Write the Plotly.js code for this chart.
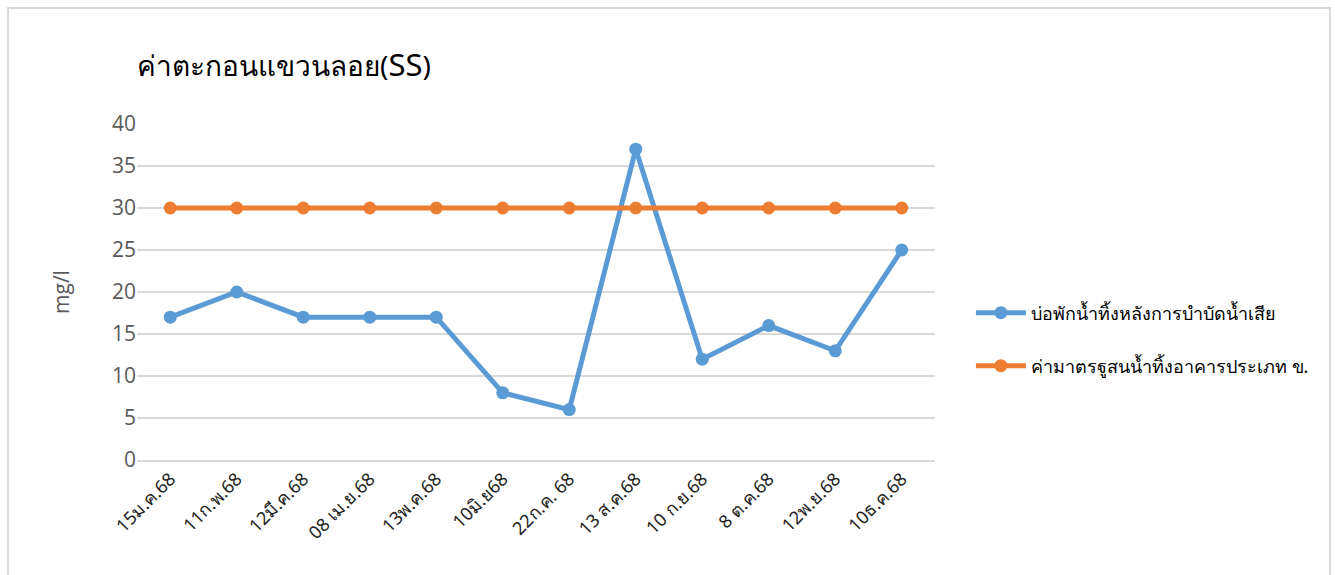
<!DOCTYPE html>
<html><head><meta charset="utf-8">
<script src="https://cdn.plot.ly/plotly-3.0.1.min.js"></script>
<style>
body{margin:0;padding:0;background:#fff;}
#wrap{position:relative;width:1335px;height:575px;overflow:hidden;}
#chart{position:absolute;left:0;top:0;width:1335px;height:575px;}
#frame{position:absolute;left:7px;top:7px;width:1324px;height:600px;border:2px solid #D9D9D9;box-sizing:border-box;pointer-events:none;}
</style></head>
<body>
<div id="wrap"><div id="chart"></div><div id="frame"></div></div>
<script>
const categories = ["15ม.ค.68","11ก.พ.68","12มี.ค.68","08 เม.ย.68","13พ.ค.68","10มิ.ย68","22ก.ค. 68","13 ส.ค.68","10 ก.ย.68","8 ต.ค.68","12พ.ย.68","10ธ.ค.68"];
const pondValues = [17,20,17,17,17,8,6,37,12,16,13,25];
const standardValues = [30,30,30,30,30,30,30,30,30,30,30,30];
const seriesNames = ["บ่อพักน้ำทิ้งหลังการบำบัดน้ำเสีย","ค่ามาตรฐูสนน้ำทิ้งอาคารประเภท ข."];
const yTicks = [0,5,10,15,20,25,30,35,40];

const font = "Tahoma, 'Noto Sans', 'DejaVu Sans', sans-serif";
const numFont = "'Open Sans', 'Noto Sans', sans-serif";
const traces = [
  {x: categories, y: pondValues, name: seriesNames[0], type: 'scatter', mode: 'lines+markers',
   line: {color: '#5B9BD5', width: 5}, marker: {color: '#5B9BD5', size: 13}, legend: 'legend'},
  {x: categories, y: standardValues, name: seriesNames[1], type: 'scatter', mode: 'lines+markers',
   line: {color: '#ED7D31', width: 5}, marker: {color: '#ED7D31', size: 13}, legend: 'legend2'}
];
const layout = {
  width: 1335, height: 575,
  margin: {l: 137, r: 400, t: 124, b: 115, autoexpand: false},
  paper_bgcolor: '#fff', plot_bgcolor: '#fff',
  font: {family: font, color: '#595959'},
  title: {text: 'ค่าตะกอนแขวนลอย(<span style="font-size:31px">SS</span>)', x: 137/1335, xanchor: 'left', y: 1 - 66/575, yanchor: 'middle',
          font: {family: font, size: 28, color: '#000'}},
  xaxis: {type: 'category', range: [-0.5, 11.5], tickangle: -45, showgrid: false, showline: true, automargin: false,
          linecolor: '#D9D9D9', linewidth: 1.5, ticks: '', tickfont: {family: font, size: 18, color: '#222'}},
  yaxis: {range: [0, 40], tickvals: yTicks, showgrid: true, gridcolor: '#D9D9D9', gridwidth: 1.5, automargin: false,
          zeroline: false, showline: false, ticks: '', ticklen: 0, tickfont: {family: numFont, size: 21, color: '#595959'},
          title: {text: 'mg/l', font: {family: numFont, size: 21, color: '#595959'}, standoff: 36}},
  showlegend: true,
  legend: {x: 1.045, xanchor: 'left', y: 1 - (313-124)/336, yanchor: 'middle', font: {family: font, size: 18, color: '#000'},
           bgcolor: 'rgba(0,0,0,0)', itemwidth: 50},
  legend2: {x: 1.045, xanchor: 'left', y: 1 - (366-124)/336, yanchor: 'middle', font: {family: font, size: 18, color: '#000'},
           bgcolor: 'rgba(0,0,0,0)', itemwidth: 50}
};
Plotly.newPlot('chart', traces, layout, {displayModeBar: false, staticPlot: true});
</script>
</body></html>
